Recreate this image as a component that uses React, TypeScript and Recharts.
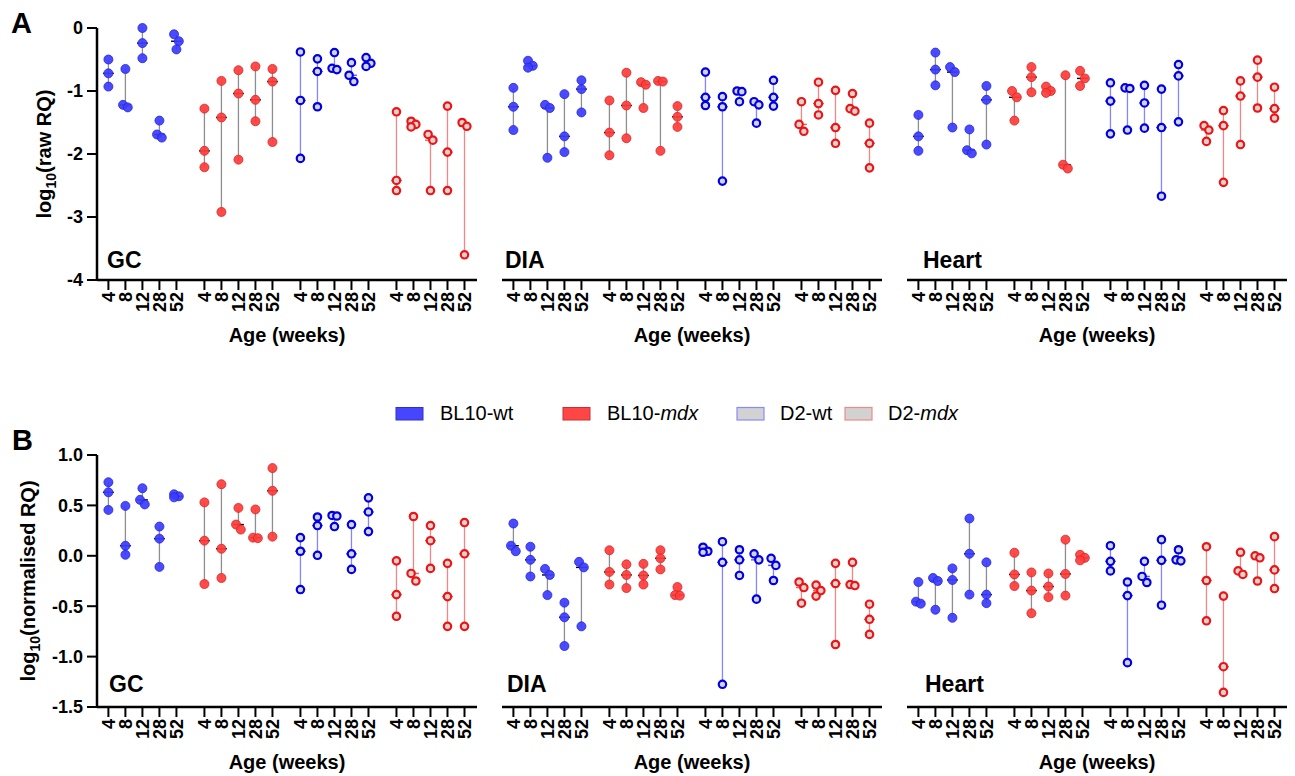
import React from 'react';
import { ScatterChart, Scatter, XAxis, YAxis, ReferenceLine } from 'recharts';

// ---------- categories / labels ----------
const ages = ['4', '8', '12', '28', '52'];
const groupNames = ['BL10-wt', 'BL10-mdx', 'D2-wt', 'D2-mdx'];
const tissues = ['GC', 'DIA', 'Heart'];
const rawTicks = [-4, -3, -2, -1, 0];
const normTicks = [-1.5, -1, -0.5, 0, 0.5, 1];

// ---------- Panel A: log10(raw RQ) ----------
const rawGcBl10Wt = [[-0.50, -0.72, -0.93], [-0.65, -1.22, -1.26], [0.0, -0.24, -0.48], [-1.47, -1.69, -1.74], [-0.10, -0.21, -0.34]];
const rawGcBl10Mdx = [[-1.28, -1.95, -2.21], [-0.84, -1.42, -2.92], [-0.67, -1.04, -2.09], [-0.61, -1.14, -1.48], [-0.65, -0.85, -1.81]];
const rawGcD2Wt = [[-0.38, -1.15, -2.07], [-0.49, -0.69, -1.25], [-0.39, -0.64, -0.66], [-0.55, -0.75, -0.85], [-0.47, -0.56, -0.61]];
const rawGcD2Mdx = [[-1.33, -2.42, -2.58], [-1.48, -1.53, -1.57], [-1.69, -1.78, -2.58], [-1.24, -1.97, -2.58], [-1.50, -1.56, -3.60]];

const rawDiaBl10Wt = [[-0.95, -1.25, -1.62], [-0.52, -0.60, -0.63], [-1.22, -1.27, -2.06], [-1.05, -1.72, -1.97], [-0.83, -0.97, -1.34]];
const rawDiaBl10Mdx = [[-1.15, -1.66, -2.02], [-0.71, -1.23, -1.75], [-0.86, -0.90, -1.27], [-0.84, -0.85, -1.95], [-1.24, -1.41, -1.57]];
const rawDiaD2Wt = [[-0.70, -1.10, -1.23], [-1.09, -1.25, -2.43], [-1.00, -1.01, -1.17], [-1.17, -1.22, -1.51], [-0.83, -1.10, -1.24]];
const rawDiaD2Mdx = [[-1.17, -1.53, -1.64], [-0.86, -1.20, -1.38], [-0.99, -1.58, -1.83], [-1.04, -1.28, -1.32], [-1.51, -1.83, -2.22]];

const rawHeartBl10Wt = [[-1.38, -1.72, -1.95], [-0.39, -0.66, -0.91], [-0.62, -0.70, -1.58], [-1.61, -1.94, -1.99], [-0.92, -1.14, -1.85]];
const rawHeartBl10Mdx = [[-1.00, -1.10, -1.47], [-0.62, -0.78, -1.02], [-0.93, -1.00, -1.03], [-0.75, -2.17, -2.23], [-0.68, -0.80, -0.92]];
const rawHeartD2Wt = [[-0.87, -1.16, -1.68], [-0.95, -0.96, -1.62], [-0.91, -1.19, -1.59], [-0.97, -1.58, -2.67], [-0.58, -0.76, -1.49]];
const rawHeartD2Mdx = [[-1.55, -1.62, -1.80], [-1.31, -1.55, -2.45], [-0.84, -1.08, -1.85], [-0.51, -0.78, -1.27], [-0.94, -1.28, -1.43]];

// ---------- Panel B: log10(normalised RQ) ----------
const normGcBl10Wt = [[0.73, 0.63, 0.455], [0.495, 0.10, 0.01], [0.67, 0.555, 0.51], [0.29, 0.17, -0.11], [0.61, 0.59, 0.58]];
const normGcBl10Mdx = [[0.53, 0.15, -0.28], [0.71, 0.07, -0.22], [0.475, 0.31, 0.26], [0.46, 0.18, 0.175], [0.87, 0.645, 0.19]];
const normGcD2Wt = [[0.18, 0.045, -0.335], [0.385, 0.30, 0.005], [0.40, 0.395, 0.29], [0.31, 0.02, -0.135], [0.575, 0.435, 0.24]];
const normGcD2Mdx = [[-0.05, -0.385, -0.60], [0.39, -0.175, -0.25], [0.30, 0.15, -0.125], [-0.075, -0.405, -0.70], [0.33, 0.02, -0.70]];

const normDiaBl10Wt = [[0.32, 0.10, 0.045], [0.09, -0.04, -0.205], [-0.13, -0.19, -0.39], [-0.465, -0.61, -0.895], [-0.06, -0.115, -0.70]];
const normDiaBl10Mdx = [[0.055, -0.16, -0.285], [-0.085, -0.19, -0.32], [-0.08, -0.195, -0.285], [0.055, -0.025, -0.135], [-0.31, -0.39, -0.395]];
const normDiaD2Wt = [[0.085, 0.045, 0.035], [0.14, -0.065, -1.275], [0.06, -0.04, -0.195], [0.02, -0.04, -0.43], [-0.025, -0.095, -0.245]];
const normDiaD2Mdx = [[-0.26, -0.315, -0.47], [-0.29, -0.345, -0.40], [-0.075, -0.275, -0.88], [-0.065, -0.285, -0.295], [-0.48, -0.63, -0.78]];

const normHeartBl10Wt = [[-0.26, -0.455, -0.475], [-0.22, -0.25, -0.535], [-0.125, -0.24, -0.615], [0.37, 0.02, -0.385], [-0.065, -0.385, -0.47]];
const normHeartBl10Mdx = [[0.03, -0.185, -0.30], [-0.165, -0.345, -0.57], [-0.175, -0.305, -0.41], [0.16, -0.18, -0.395], [0.01, -0.02, -0.045]];
const normHeartD2Wt = [[0.10, -0.055, -0.15], [-0.26, -0.395, -1.06], [-0.055, -0.205, -0.265], [0.16, -0.045, -0.49], [0.06, -0.04, -0.05]];
const normHeartD2Mdx = [[0.09, -0.245, -0.645], [-0.40, -1.10, -1.355], [0.035, -0.15, -0.185], [0.0, -0.02, -0.25], [0.19, -0.14, -0.325]];

const rawSets = [
  [rawGcBl10Wt, rawGcBl10Mdx, rawGcD2Wt, rawGcD2Mdx],
  [rawDiaBl10Wt, rawDiaBl10Mdx, rawDiaD2Wt, rawDiaD2Mdx],
  [rawHeartBl10Wt, rawHeartBl10Mdx, rawHeartD2Wt, rawHeartD2Mdx],
];
const normSets = [
  [normGcBl10Wt, normGcBl10Mdx, normGcD2Wt, normGcD2Mdx],
  [normDiaBl10Wt, normDiaBl10Mdx, normDiaD2Wt, normDiaD2Mdx],
  [normHeartBl10Wt, normHeartBl10Mdx, normHeartD2Wt, normHeartD2Mdx],
];

// ---------- layout helpers ----------
const FONT = '"Liberation Sans", Arial, Helvetica, sans-serif';
const GROUP_STEP = 5.645;
const X_DOMAIN: [number, number] = [-0.67, 21.67];
const JIT = 0.14;
const PLOT_H = 252;
const tickPos = groupNames.flatMap((_, g) => ages.map((_, i) => g * GROUP_STEP + i));
const tickLabels = groupNames.flatMap(() => ages);

const groupStyles = [
  { kind: 'filled', fill: '#3c3cff', stroke: '#2626d6', line: '#8e8e8e', dash: '#000000' },
  { kind: 'filled', fill: '#ff3c3c', stroke: '#d62626', line: '#8e8e8e', dash: '#000000' },
  { kind: 'open', fill: '#d3d3db', stroke: '#0000e6', line: '#8585ff', dash: '#5a5aff' },
  { kind: 'open', fill: '#dbd3d3', stroke: '#ee1414', line: '#f28585', dash: '#f05a5a' },
];

function buildPoints(series: number[][], g: number, ppu: number) {
  const pts: { x: number; y: number }[] = [];
  series.forEach((vals, i) => {
    const base = g * GROUP_STEP + i;
    const sorted = [...vals].sort((a, b) => b - a);
    const offs = sorted.map(() => 0);
    for (let k = 1; k < sorted.length; k++) {
      if (Math.abs(sorted[k - 1] - sorted[k]) * ppu < 8) {
        if (offs[k - 1] === 0) {
          offs[k - 1] = -JIT;
          offs[k] = JIT;
        } else {
          offs[k] = -offs[k - 1];
        }
      }
    }
    sorted.forEach((v, k) => pts.push({ x: base + offs[k], y: v }));
  });
  return pts;
}

function buildSummary(series: number[][], g: number) {
  return series.map((vals, i) => {
    const sorted = [...vals].sort((a, b) => a - b);
    return { x: g * GROUP_STEP + i, lo: sorted[0], hi: sorted[sorted.length - 1], med: sorted[Math.floor(sorted.length / 2)] };
  });
}

const RotTick = (props: any) => {
  const { x, y, payload } = props;
  const idx = tickPos.findIndex((p) => Math.abs(p - payload.value) < 1e-6);
  const label = idx >= 0 ? tickLabels[idx] : '';
  return (
    <text x={x} y={y} transform={`rotate(-90, ${x}, ${y})`} textAnchor="end" dy="0.36em" fontSize={18} fontWeight={700} fill="#000" fontFamily={FONT}>
      {label}
    </text>
  );
};

const YLab = (props: any) => {
  const { viewBox, text, cx } = props;
  const cy = viewBox && viewBox.height ? viewBox.y + viewBox.height / 2 : 154;
  return (
    <text transform={`rotate(-90, ${cx}, ${cy})`} x={cx} y={cy + 7} textAnchor="middle" fontSize={20} fontWeight={700} fill="#000" fontFamily={FONT}>
      log<tspan fontSize={14} dy={5}>10</tspan>
      <tspan dy={-5}>{text}</tspan>
    </text>
  );
};

const makeShape = (s: any) => (p: any) =>
  s.kind === 'filled' ? (
    <circle cx={p.cx} cy={p.cy} r={4.5} fill={s.fill} fillOpacity={0.93} stroke={s.stroke} strokeWidth={0.8} />
  ) : (
    <circle cx={p.cx} cy={p.cy} r={3.7} fill={s.fill} stroke={s.stroke} strokeWidth={2.2} />
  );

type SubProps = {
  left: number;
  top: number;
  sets: number[][][];
  domain: [number, number];
  ticks: number[];
  showY: boolean;
  yText?: string;
  yLabelX?: number;
  fmt: (v: number) => string;
};

function SubChart({ left, top, sets, domain, ticks, showY, yText, yLabelX, fmt }: SubProps) {
  const ppu = PLOT_H / (domain[1] - domain[0]);
  const width = showY ? 477 : 380;
  const summaries = sets.map((s, g) => buildSummary(s, g));
  return (
    <div style={{ position: 'absolute', left, top }}>
      <ScatterChart width={width} height={350} margin={{ top: 28, right: 0, bottom: 0, left: 0 }}>
        <XAxis
          type="number"
          dataKey="x"
          domain={X_DOMAIN}
          ticks={tickPos}
          interval={0}
          tick={<RotTick />}
          tickSize={10}
          height={70}
          axisLine={{ stroke: '#000', strokeWidth: 2.5 }}
          tickLine={{ stroke: '#000', strokeWidth: 2 }}
          label={{ value: 'Age (weeks)', position: 'insideBottom', offset: 8, fontSize: 20, fontWeight: 700, fill: '#000' }}
        />
        <YAxis
          type="number"
          dataKey="y"
          domain={domain}
          ticks={ticks}
          hide={!showY}
          width={97}
          interval={0}
          tickSize={10}
          tickMargin={4}
          tickFormatter={fmt}
          tick={{ fontSize: 18, fontWeight: 700, fill: '#000' }}
          axisLine={{ stroke: '#000', strokeWidth: 2.5 }}
          tickLine={{ stroke: '#000', strokeWidth: 2 }}
          label={showY ? <YLab text={yText} cx={yLabelX} /> : undefined}
        />
        {summaries.map((sum, g) =>
          sum.map((d, i) => (
            <ReferenceLine
              key={`r-${g}-${i}`}
              segment={[{ x: d.x, y: d.lo }, { x: d.x, y: d.hi }]}
              stroke={groupStyles[g].line}
              strokeWidth={1.3}
              ifOverflow="visible"
            />
          ))
        )}
        {sets.map((s, g) => (
          <Scatter
            key={`s-${g}`}
            name={groupNames[g]}
            data={buildPoints(s, g, ppu)}
            shape={makeShape(groupStyles[g])}
            isAnimationActive={false}
          />
        ))}
        {summaries.map((sum, g) =>
          sum.map((d, i) => (
            <ReferenceLine
              key={`m-${g}-${i}`}
              segment={[{ x: d.x - 0.32, y: d.med }, { x: d.x + 0.32, y: d.med }]}
              stroke={groupStyles[g].dash}
              strokeWidth={1.4}
              ifOverflow="visible"
            />
          ))
        )}
      </ScatterChart>
    </div>
  );
}

const chartLefts = [0, 502, 907];
const tissueLabelX = [107, 505, 923];

export default function App() {
  const fmtRaw = (v: number) => String(v);
  const fmtNorm = (v: number) => v.toFixed(1);
  return (
    <div style={{ position: 'absolute', left: 0, top: 0, width: 1295, height: 776, background: '#fff', fontFamily: FONT }}>
      {tissues.map((t, k) => (
        <SubChart
          key={`a-${t}`}
          left={chartLefts[k]}
          top={0}
          sets={rawSets[k]}
          domain={[-4, 0]}
          ticks={rawTicks}
          showY={k === 0}
          yText="(raw RQ)"
          yLabelX={44}
          fmt={fmtRaw}
        />
      ))}
      {tissues.map((t, k) => (
        <SubChart
          key={`b-${t}`}
          left={chartLefts[k]}
          top={427}
          sets={normSets[k]}
          domain={[-1.5, 1]}
          ticks={normTicks}
          showY={k === 0}
          yText="(normalised RQ)"
          yLabelX={28}
          fmt={fmtNorm}
        />
      ))}
      <svg width={1295} height={776} style={{ position: 'absolute', left: 0, top: 0, pointerEvents: 'none' }} fontFamily={FONT}>
        <text x={11} y={33} fontSize={29} fontWeight={700} fill="#000">A</text>
        <text x={12} y={450} fontSize={29} fontWeight={700} fill="#000">B</text>
        {tissues.map((t, k) => (
          <text key={`ta-${t}`} x={tissueLabelX[k]} y={268} fontSize={23} fontWeight={700} fill="#000">{t}</text>
        ))}
        {tissues.map((t, k) => (
          <text key={`tb-${t}`} x={tissueLabelX[k] + 2} y={692} fontSize={23} fontWeight={700} fill="#000">{t}</text>
        ))}
        {/* legend */}
        <rect x={396} y={407.5} width={27} height={12.5} fill="#4646ff" stroke="#3030c8" strokeWidth={1} />
        <text x={440} y={420} fontSize={20} fill="#000">BL10-wt</text>
        <rect x={563} y={407.5} width={27} height={12.5} fill="#ff4646" stroke="#c83030" strokeWidth={1} />
        <text x={607} y={420} fontSize={20} fill="#000">BL10-<tspan fontStyle="italic">mdx</tspan></text>
        <rect x={737} y={407.5} width={27} height={12.5} fill="#d2d2d2" stroke="#8a8aff" strokeWidth={1.2} />
        <text x={780} y={420} fontSize={20} fill="#000">D2-wt</text>
        <rect x={845} y={407.5} width={27} height={12.5} fill="#d2d2d2" stroke="#f08a8a" strokeWidth={1.2} />
        <text x={888} y={420} fontSize={20} fill="#000">D2-<tspan fontStyle="italic">mdx</tspan></text>
      </svg>
    </div>
  );
}
